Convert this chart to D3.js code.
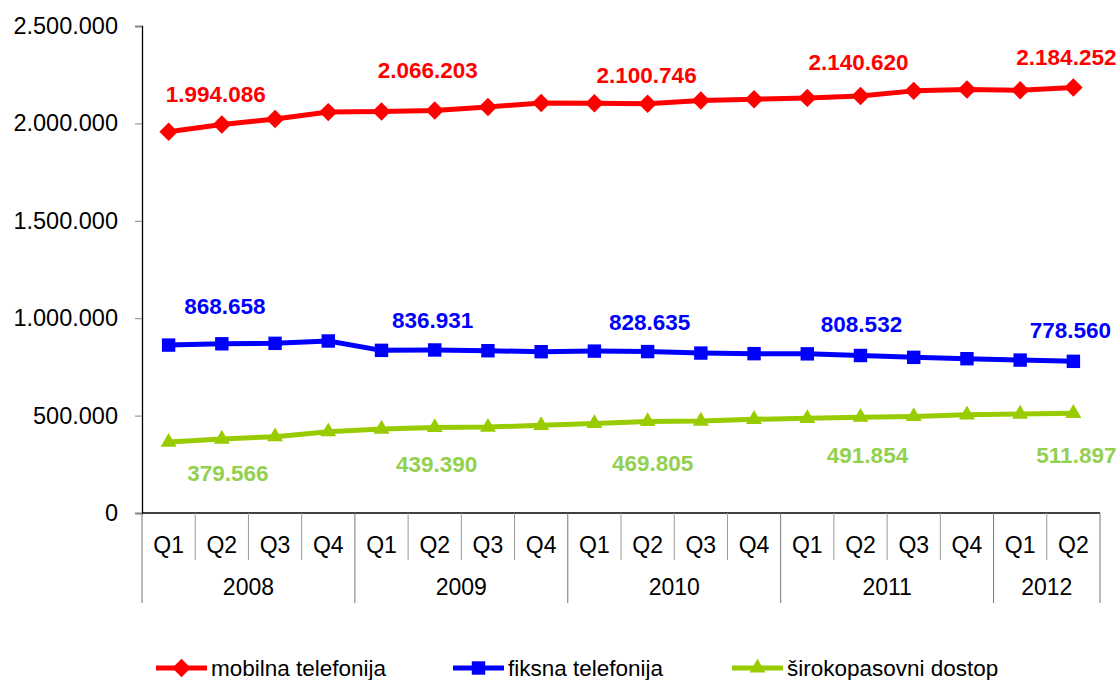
<!DOCTYPE html>
<html lang="sl">
<head>
    <meta charset="UTF-8">
    <title>Uporabniki telefonije in širokopasovnega dostopa</title>
    <script src="https://d3js.org/d3.v7.min.js"></script>
    <style>
        body { margin: 0; background: #fff; }
        text { font-family: "Liberation Sans", Arial, sans-serif; }
    </style>
</head>
<body>
    <div id="chart"></div>

    <script>
        // data
        const quarters = ["Q1", "Q2", "Q3", "Q4", "Q1", "Q2", "Q3", "Q4", "Q1", "Q2", "Q3", "Q4",
                          "Q1", "Q2", "Q3", "Q4", "Q1", "Q2"];
        const years = ["2008", "2009", "2010", "2011", "2012"];
        const quartersPerYear = [4, 4, 4, 4, 2];

        const mobilna = [1957000, 1994086, 2022600, 2058000, 2061000, 2066203, 2084000, 2105000, 2103000,
                         2100746, 2118000, 2124000, 2131000, 2140620, 2167000, 2174000, 2170000, 2184252];
        const fiksna = [862000, 868658, 871000, 883000, 835000, 836931, 833000, 828000, 831000,
                        828635, 821000, 818000, 817000, 808532, 799000, 792000, 785000, 778560];
        const sirokopasovni = [364000, 379566, 392000, 417000, 431000, 439390, 441000, 450000, 460000,
                               469805, 472000, 481000, 486000, 491854, 496000, 504000, 508000, 511897];

        const labelIndex = [1, 5, 9, 13, 17];
        const yTicks = [0, 500000, 1000000, 1500000, 2000000, 2500000];

        const series = [
            { name: "mobilna telefonija", values: mobilna, color: "#ff0000", labelColor: "#ff0000", marker: "diamond" },
            { name: "fiksna telefonija", values: fiksna, color: "#0000ff", labelColor: "#0000ff", marker: "square" },
            { name: "širokopasovni dostop", values: sirokopasovni, color: "#99cc00", labelColor: "#92d050", marker: "triangle" }
        ];

        // label placement (pixels from point)
        const labelShiftY = [
            [-30, -40, -29, -34, -30],
            [-38, -30, -29, -31, -31],
            [34, 37, 42, 38, 42]
        ];
        const labelShiftX = [
            [-6, -7, -1, -2, -7],
            [3, -2, 2, 1, -3],
            [6, 2, 5, 7, 3]
        ];

        const width = 1120;
        const height = 680;
        const plotLeft = 142, plotRight = 1100, plotTop = 26, plotBottom = 513;
        const axisFont = 23;

        const fmt = d3.formatLocale({ decimal: ",", thousands: ".", grouping: [3], currency: ["", ""] }).format(",");

        const svg = d3.select("#chart").append("svg")
            .attr("width", width)
            .attr("height", height);

        const x = d3.scaleBand()
            .domain(d3.range(quarters.length))
            .range([plotLeft, plotRight]);

        const y = d3.scaleLinear()
            .domain([0, 2500000])
            .range([plotBottom, plotTop]);

        // y axis
        const yAxis = svg.append("g")
            .attr("transform", "translate(" + plotLeft + ",0)")
            .call(d3.axisLeft(y).tickValues(yTicks).tickFormat(fmt).tickSize(7).tickPadding(17));
        yAxis.select(".domain").attr("stroke", "#000").attr("stroke-width", 1.3);
        yAxis.selectAll(".tick line").attr("stroke", "#888");
        yAxis.selectAll(".tick text")
            .attr("font-size", 23.5)
            .attr("fill", "#000")
            .style("font-family", "'Liberation Sans', Arial, sans-serif");

        // x axis line
        svg.append("line")
            .attr("x1", plotLeft).attr("x2", plotRight)
            .attr("y1", plotBottom).attr("y2", plotBottom)
            .attr("stroke", "#000").attr("stroke-width", 1.3);

        // quarter separators and labels
        const yearStarts = [0];
        quartersPerYear.forEach((n, i) => yearStarts.push(yearStarts[i] + n));

        d3.range(quarters.length + 1).forEach(i => {
            const xp = i < quarters.length ? x(i) : plotRight;
            const isYear = yearStarts.includes(i);
            svg.append("line")
                .attr("x1", xp).attr("x2", xp)
                .attr("y1", plotBottom).attr("y2", isYear ? 603 : 560)
                .attr("stroke", isYear ? "#777" : "#999")
                .attr("stroke-width", 1);
        });

        svg.append("g").selectAll("text")
            .data(quarters)
            .join("text")
            .attr("x", (d, i) => x(i) + x.bandwidth() / 2)
            .attr("y", 545)
            .attr("dy", "0.35em")
            .attr("text-anchor", "middle")
            .attr("font-size", axisFont)
            .text(d => d);

        svg.append("g").selectAll("text")
            .data(years)
            .join("text")
            .attr("x", (d, i) => {
                const a = x(yearStarts[i]);
                const b = yearStarts[i + 1] < quarters.length ? x(yearStarts[i + 1]) : plotRight;
                return (a + b) / 2;
            })
            .attr("y", 587)
            .attr("dy", "0.35em")
            .attr("text-anchor", "middle")
            .attr("font-size", axisFont)
            .text(d => d);

        // markers
        const markerPath = {
            diamond: d3.symbol(d3.symbolSquare, 170)(),
            square: d3.symbol(d3.symbolSquare, 180)(),
            triangle: d3.symbol(d3.symbolTriangle, 110)()
        };
        const markerRotate = { diamond: 45, square: 0, triangle: 0 };

        const line = d3.line()
            .x((d, i) => x(i) + x.bandwidth() / 2)
            .y(d => y(d));

        series.forEach((s, si) => {
            const g = svg.append("g");
            g.append("path")
                .datum(s.values)
                .attr("d", line)
                .attr("fill", "none")
                .attr("stroke", s.color)
                .attr("stroke-width", 5)
                .attr("stroke-linejoin", "round");

            g.selectAll(".mk")
                .data(s.values)
                .join("path")
                .attr("class", "mk")
                .attr("d", markerPath[s.marker])
                .attr("transform", (d, i) => "translate(" + (x(i) + x.bandwidth() / 2) + "," + y(d) + ") rotate(" + markerRotate[s.marker] + ")")
                .attr("fill", s.color);

            g.selectAll(".lbl")
                .data(labelIndex)
                .join("text")
                .attr("class", "lbl")
                .attr("x", (d, k) => x(d) + x.bandwidth() / 2 + labelShiftX[si][k])
                .attr("y", (d, k) => y(s.values[d]) + labelShiftY[si][k])
                .attr("dy", "0.35em")
                .attr("text-anchor", "middle")
                .attr("font-size", 22.5)
                .attr("font-weight", "bold")
                .attr("fill", s.labelColor)
                .text(d => fmt(s.values[d]));
        });

        // legend
        const legendX = [156, 453, 732];
        const legend = svg.append("g").selectAll("g")
            .data(series)
            .join("g")
            .attr("transform", (d, i) => "translate(" + legendX[i] + ",668)");

        legend.append("line")
            .attr("x1", 0).attr("x2", 51)
            .attr("stroke", d => d.color)
            .attr("stroke-width", 5);
        legend.append("path")
            .attr("d", d => markerPath[d.marker])
            .attr("transform", d => "translate(25.5,0) rotate(" + markerRotate[d.marker] + ")")
            .attr("fill", d => d.color);
        legend.append("text")
            .attr("x", 55)
            .attr("dy", "0.35em")
            .attr("font-size", 22.5)
            .text(d => d.name);
    </script>
</body>
</html>
